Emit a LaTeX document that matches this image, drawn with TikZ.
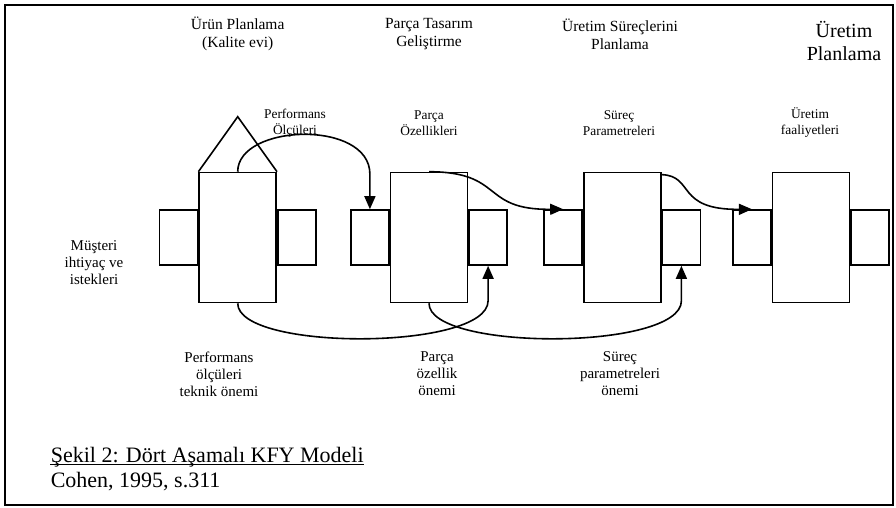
\documentclass[tikz,border=0pt]{standalone}
\usepackage{fontspec}
\setmainfont{Liberation Serif}
\usetikzlibrary{arrows.meta,positioning,calc}

\begin{document}
\begin{tikzpicture}[x=1pt,y=-1pt,>={Triangle[length=13pt,width=11pt]},line width=1.6pt,
  blok/.style={draw,fill=white,inner sep=0pt,minimum width=77pt,minimum height=130pt},
  kanat/.style={draw,fill=white,inner sep=0pt,minimum width=38pt,minimum height=55pt},
  baslik/.style={align=center,font=\fontsize{15.5}{18}\selectfont},
  etiket/.style={align=center,font=\fontsize{13.4}{16}\selectfont},
  alt/.style={align=center,font=\fontsize{15}{17}\selectfont},
  kaynakca/.style={anchor=base west,inner sep=0pt,font=\fontsize{22}{25}\selectfont}]
\useasboundingbox (0,0) rectangle (896,507);
\draw[line width=2pt] (5,5) rectangle (893,505);
% asama basliklari
\node[baslik] (h1) at (237.7,34){Ürün Planlama\\(Kalite evi)};
\node[baslik] (h2) at (429,34){Parça Tasarım\\Geliştirme};
\node[baslik] (h3) at (620,34){Üretim Süreçlerini\\Planlama};
\node[align=center,font=\fontsize{20}{23}\selectfont] (h4) at (844,41){Üretim\\Planlama};
% bloklar
\node[blok] (urun) at (237.7,237.5){};\node[kanat,left=0pt of urun] (urunL){};\node[kanat,right=0pt of urun] (urunR){};
\node[blok] (parca) at (429,237.5){};\node[kanat,left=0pt of parca] (parcaL){};\node[kanat,right=0pt of parca] (parcaR){};
\node[blok] (surec) at (622.3,237.5){};\node[kanat,left=0pt of surec] (surecL){};\node[kanat,right=0pt of surec] (surecR){};
\node[blok] (uretim) at (811,237.5){};\node[kanat,left=0pt of uretim] (uretimL){};\node[kanat,right=0pt of uretim] (uretimR){};
\coordinate (cati) at (237.7,116.7);\draw (urun.north west)--(cati)--(urun.north east);
% ust etiketler
\node[etiket] (e1) at (295,123){Performans\\Ölçüleri};\node[etiket] (e2) at (429,123){Parça\\Özellikleri};
\node[etiket] (e3) at (619,123){Süreç\\Parametreleri};\node[etiket] (e4) at (810,123){Üretim\\faaliyetleri};
\node[alt] (musteri) at (94,263){Müşteri\\ihtiyaç ve\\istekleri};
% oklar
\draw[->] (urun.north) .. controls +(0,-48) and +(0,-55) .. ($(parcaL.north)+(0,-35)$) -- (parcaL.north);
\draw[->] (parca.north) .. controls (505,172) and (480,210) .. (surecL.north);
\draw[->] (surec.58) .. controls (695,176) and (675,210) .. (uretimL.north);
\draw[->] (urun.south) .. controls +(0,48) and +(0,50) .. ($(parcaR.south)+(0,35)$) -- (parcaR.south);
\draw[->] (parca.south) .. controls +(0,48) and +(0,50) .. ($(surecR.south)+(0,35)$) -- (surecR.south);
% alt etiketler
\node[alt] (a1) at (219,374){Performans\\ölçüleri\\teknik önemi};
\node[alt] (a2) at (437,374){Parça\\özellik\\önemi};
\node[alt] (a3) at (620,374){Süreç\\parametreleri\\önemi};
\node[kaynakca] (sekil) at (50,462){Şekil 2: Dört Aşamalı KFY Modeli};
\draw[line width=1pt] ($(sekil.base west)+(0,2.5)$) -- ($(sekil.base east)+(0,2.5)$);
\node[kaynakca] (kaynak) at (50,487){Cohen, 1995, s.311};
\end{tikzpicture}
\end{document}
